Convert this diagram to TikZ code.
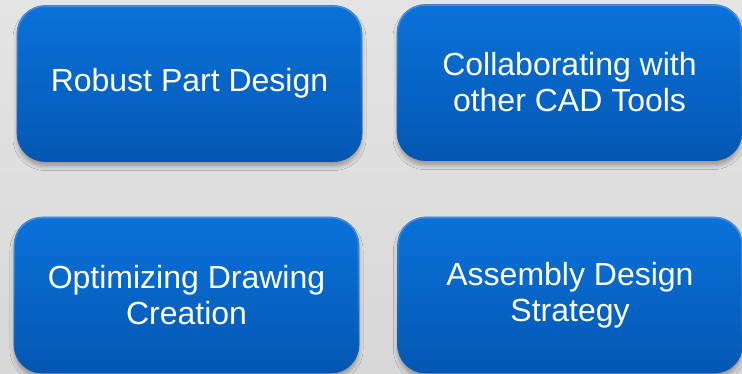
\documentclass[tikz,border=0pt]{standalone}
\usepackage{fontspec}
\setmainfont{Liberation Sans}
\usetikzlibrary{shadows.blur,fadings}
\definecolor{blueT}{HTML}{0A72DA}
\definecolor{blueB}{HTML}{0457B2}
\definecolor{blueE}{HTML}{0552A6}
\definecolor{bgT}{HTML}{E4E4E4}
\definecolor{bgB}{HTML}{D8D8D8}
\tikzfading[name=topedge, top color=transparent!30, middle color=transparent!100, bottom color=transparent!100]
\tikzset{
  tile/.style={rounded corners=28pt, minimum width=345pt, minimum height=156pt,
    inner sep=0pt, top color=blueT, bottom color=blueB, draw=blueE, line width=0.6pt,
    text=white, font=\fontsize{32}{36}\selectfont, align=center,
    blur shadow={shadow xshift=0pt, shadow yshift=-5pt, shadow blur radius=4pt, shadow opacity=30},
    postaction={draw=white, line width=2.5pt, draw opacity=0.35, path fading=topedge, fit fading=true}}
}
\begin{document}
\begin{tikzpicture}[x=1pt,y=1pt]
\useasboundingbox (0,0) rectangle (742,374);
\shade[top color=bgT, bottom color=bgB] (0,0) rectangle (742,374);
\node[tile] (rpd) at (189.5,290.5) {Robust Part Design};
\node[tile] (cct) at (569.5,291.5) {Collaborating with\\other CAD Tools};
\node[tile] (odc) at (186.5,79) {Optimizing Drawing\\Creation};
\node[tile] (ads) at (570,79) {Assembly Design\\Strategy};
\end{tikzpicture}
\end{document}
